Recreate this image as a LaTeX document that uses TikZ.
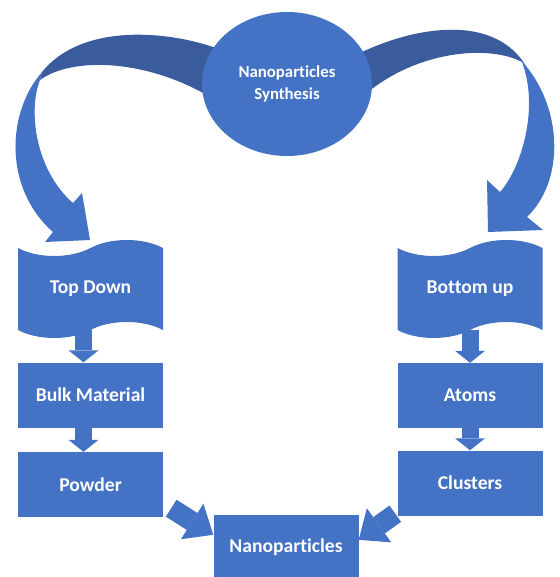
\documentclass[tikz,border=0pt]{standalone}
\usepackage{fontspec}
\setmainfont{Carlito}[Ligatures=NoCommon]
\usetikzlibrary{shapes.geometric,shapes.symbols,arrows.meta}
\definecolor{boxblue}{HTML}{4472C4}
\definecolor{ribbonback}{HTML}{3A5C9C}

\begin{document}
\begin{tikzpicture}[x=1pt,y=1pt,
        box/.style={rectangle, fill=boxblue, minimum width=145pt, minimum height=65pt, inner sep=0pt,
            text=white, font=\bfseries\fontsize{19.6}{22}\selectfont},
        flag/.style={box, tape, tape bend height=16pt, minimum height=98pt},
        hub/.style={ellipse, fill=boxblue, minimum width=170pt, minimum height=144pt, inner sep=0pt,
            text=white, align=center, font=\bfseries\fontsize{16.8}{22}\selectfont},
        downarrow/.style={draw=boxblue, line width=17pt, -{Triangle[width=30pt,length=12pt,line width=0pt]}},
        slantarrow/.style={draw=boxblue, line width=20pt, -{Triangle[width=42pt,length=25pt,line width=0pt]}}]

        \useasboundingbox (0,0) rectangle (559,-577);

        % Left ribbon
        \fill[ribbonback] (235,-54) -- (210,-46) .. controls (160,-30) and (80,-25) .. (42,-72)
            -- (40,-80) .. controls (70,-58) and (140,-58) .. (205,-94) -- (235,-96) -- cycle;
        \fill[boxblue] (42,-72) .. controls (5,-115) and (5,-190) .. (53,-232)
            -- (45,-242) -- (90,-240) -- (82,-193) -- (73,-203)
            .. controls (35,-170) and (28,-110) .. (40,-80) -- cycle;

        % Right ribbon
        \fill[ribbonback] (333,-66) -- (362,-52) .. controls (420,-25) and (495,-15) .. (526,-66)
            -- (522,-62) .. controls (490,-45) and (420,-50) .. (368,-92) -- (335,-90) -- cycle;
        \fill[boxblue] (526,-66) .. controls (562,-110) and (565,-180) .. (527,-217)
            -- (543,-230) -- (488,-232) -- (487,-180) -- (500,-192)
            .. controls (520,-170) and (540,-110) .. (522,-62) -- cycle;

        % Hub
        \node[hub] (syn) at (287,-84) {Nanoparticles\\Synthesis};

        % Left column
        \node[flag] (td) at (90.5,-289) {Top Down};
        \node[box] (bulk) at (90.5,-395) {Bulk Material};
        \node[box] (pow) at (90.5,-484.5) {Powder};

        % Right column
        \node[flag] (bu) at (470,-289) {Bottom up};
        \node[box] (atoms) at (470,-395.5) {Atoms};
        \node[box] (clu) at (470,-483) {Clusters};

        % Result
        \node[box] (nano) at (286,-547.5) {Nanoparticles};

        % Arrows
        \draw[downarrow] ([xshift=-7pt]td.south) -- ([xshift=-7pt]bulk.north);
        \draw[downarrow] ([xshift=-7pt]bulk.south) -- ([xshift=-7pt]pow.north);
        \draw[downarrow] (bu.south) -- (atoms.north);
        \draw[downarrow] (atoms.south) -- (clu.north);
        \draw[slantarrow] ([shift={(8pt,9pt)}]pow.south east) -- ([yshift=-20pt]nano.north west);
        \draw[slantarrow] ([shift={(-2pt,2pt)}]clu.south west) -- ([yshift=-25pt]nano.north east);
    \end{tikzpicture}
\end{document}
